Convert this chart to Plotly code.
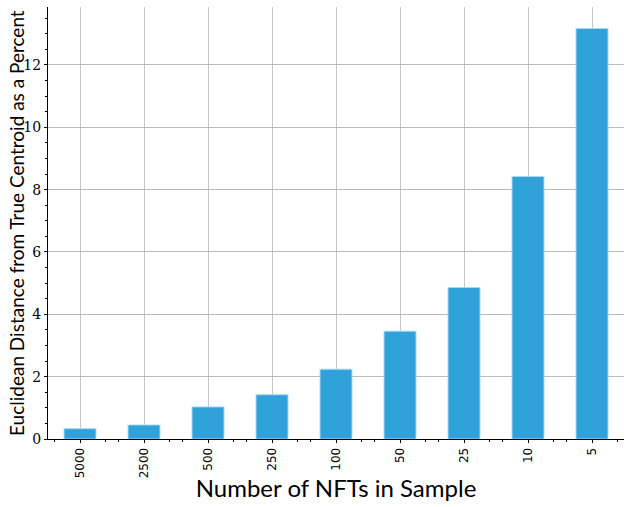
import plotly.graph_objects as go

categories = ["5000", "2500", "500", "250", "100", "50", "25", "10", "5"]
distances = [0.33, 0.45, 1.03, 1.42, 2.24, 3.46, 4.86, 8.42, 13.17]
y_tick_vals = [0, 2, 4, 6, 8, 10, 12]
y_title = "Euclidean Distance from True Centroid as a Percent"
x_title = "Number of NFTs in Sample"

idx = list(range(len(categories)))

fig = go.Figure(
    go.Bar(
        x=idx,
        y=distances,
        width=0.5,
        marker=dict(color="#30a2d9", line=dict(color="#a9daf2", width=1)),
    )
)

minor_x = []
for i in idx:
    minor_x += [i - 0.4, i + 0.4]

fig.update_layout(
    width=631,
    height=507,
    margin=dict(l=48, r=7, t=7, b=68),
    plot_bgcolor="white",
    paper_bgcolor="white",
    showlegend=False,
)
fig.add_annotation(
    text=y_title,
    xref="paper", yref="paper",
    x=0, y=0.5,
    xanchor="center", yanchor="middle",
    xshift=-32,
    textangle=-90,
    showarrow=False,
    font=dict(family="Lato", size=19, color="black"),
)
fig.update_xaxes(
    automargin=False,
    range=[-0.5, 8.5],
    tickmode="array",
    tickvals=idx,
    ticktext=categories,
    tickangle=-90,
    tickfont=dict(family="DejaVu Sans", size=12, color="black"),
    showgrid=True,
    gridcolor="#c6c6c6",
    gridwidth=1,
    showline=True,
    linecolor="black",
    linewidth=1,
    ticks="outside",
    ticklen=3,
    tickcolor="black",
    zeroline=False,
    minor=dict(tickmode="array", tickvals=minor_x, ticks="outside", ticklen=2, tickcolor="black", showgrid=False),
    title=dict(text=x_title, font=dict(family="Lato", size=24, color="black"), standoff=2),
)
fig.update_yaxes(
    automargin=False,
    range=[0, 13.86],
    tickmode="array",
    tickvals=y_tick_vals,
    tickfont=dict(family="DejaVu Serif", size=14, color="black"),
    showgrid=True,
    gridcolor="#bababa",
    gridwidth=1,
    showline=True,
    linecolor="black",
    linewidth=1,
    ticks="outside",
    ticklen=3,
    tickcolor="black",
    zeroline=False,
    minor=dict(dtick=0.5, ticks="outside", ticklen=2, tickcolor="black", showgrid=False),
)

fig.write_html(
    "out.html",
    config={"displayModeBar": False},
    post_script="document.body.style.margin='0';document.body.style.overflow='hidden';",
)
